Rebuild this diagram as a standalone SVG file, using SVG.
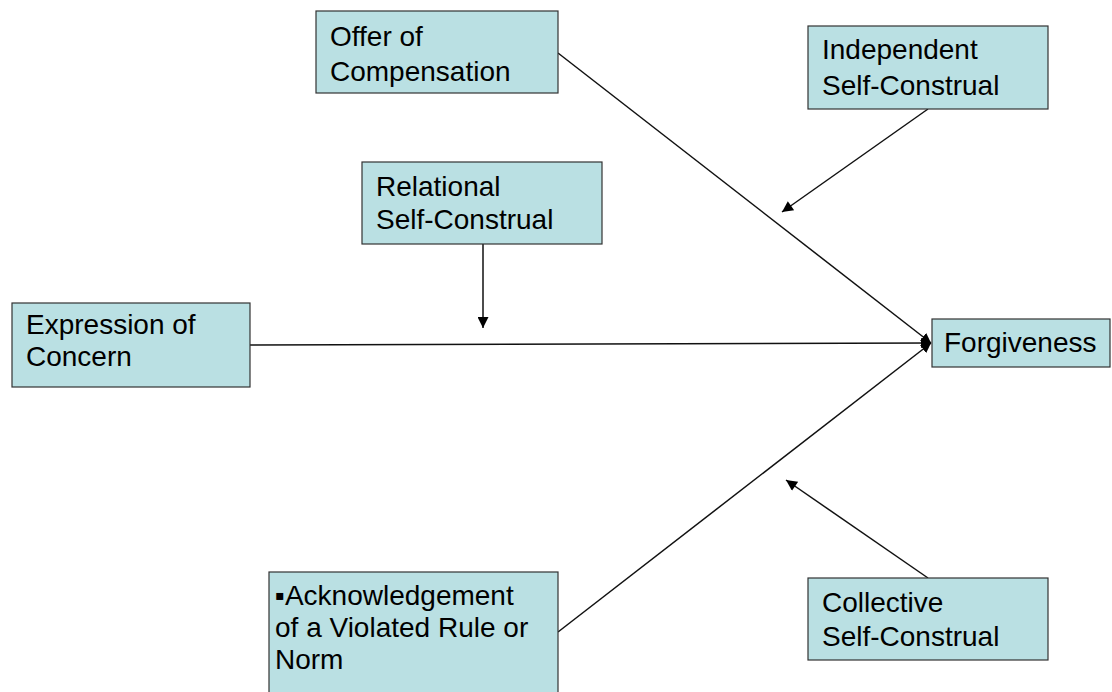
<svg xmlns="http://www.w3.org/2000/svg" width="1112" height="692" viewBox="0 0 1112 692">
<style>
.box{fill:#BAE0E3;stroke:#333;stroke-width:1.2}
.t{font-family:"Liberation Sans",Arial,sans-serif;font-size:28px;fill:#000}
.c{stroke:#111;stroke-width:1.5;fill:none}
</style>
<defs>
<marker id="ah" viewBox="0 0 10 10" refX="10" refY="5" markerWidth="10" markerHeight="10" markerUnits="userSpaceOnUse" orient="auto">
<path d="M0,0 L10,5 L0,10 z" fill="#000"/>
</marker>
<marker id="ah2" viewBox="0 0 10 10" refX="10" refY="5" markerWidth="14" markerHeight="11" markerUnits="userSpaceOnUse" orient="auto">
<path d="M0,0 L10,5 L0,10 z" fill="#000"/>
</marker>
</defs>
<rect width="1112" height="692" fill="#fff"/>
<g id="connectors">
<line class="c" x1="558" y1="53" x2="931" y2="343" marker-end="url(#ah)"/>
<line class="c" x1="250" y1="345" x2="931" y2="343" marker-end="url(#ah)"/>
<line class="c" x1="558" y1="632" x2="931" y2="343" marker-end="url(#ah)"/>
<line class="c" x1="928" y1="109" x2="782" y2="212" marker-end="url(#ah2)"/>
<line class="c" x1="483" y1="244" x2="483" y2="328" marker-end="url(#ah2)"/>
<line class="c" x1="928" y1="578" x2="786" y2="480" marker-end="url(#ah2)"/>
</g>
<g id="offer">
<rect class="box" x="316" y="11" width="242" height="82"/>
<text class="t" x="330" y="46">Offer of</text>
<text class="t" x="330" y="81">Compensation</text>
</g>
<g id="independent">
<rect class="box" x="808" y="26" width="240" height="83"/>
<text class="t" x="822" y="59">Independent</text>
<text class="t" x="822" y="95">Self-Construal</text>
</g>
<g id="relational">
<rect class="box" x="362" y="162" width="240" height="82"/>
<text class="t" x="376" y="196">Relational</text>
<text class="t" x="376" y="229">Self-Construal</text>
</g>
<g id="expression">
<rect class="box" x="12" y="303" width="238" height="84"/>
<text class="t" x="26" y="334">Expression of</text>
<text class="t" x="26" y="366">Concern</text>
</g>
<g id="forgiveness">
<rect class="box" x="932" y="319" width="178" height="48"/>
<text class="t" x="944" y="352">Forgiveness</text>
</g>
<g id="acknowledgement">
<rect class="box" x="269" y="572" width="289" height="130"/>
<text class="t" x="275" y="605">▪Acknowledgement</text>
<text class="t" x="275" y="637">of a Violated Rule or</text>
<text class="t" x="275" y="669">Norm</text>
</g>
<g id="collective">
<rect class="box" x="808" y="578" width="240" height="82"/>
<text class="t" x="822" y="612">Collective</text>
<text class="t" x="822" y="646">Self-Construal</text>
</g>
</svg>
